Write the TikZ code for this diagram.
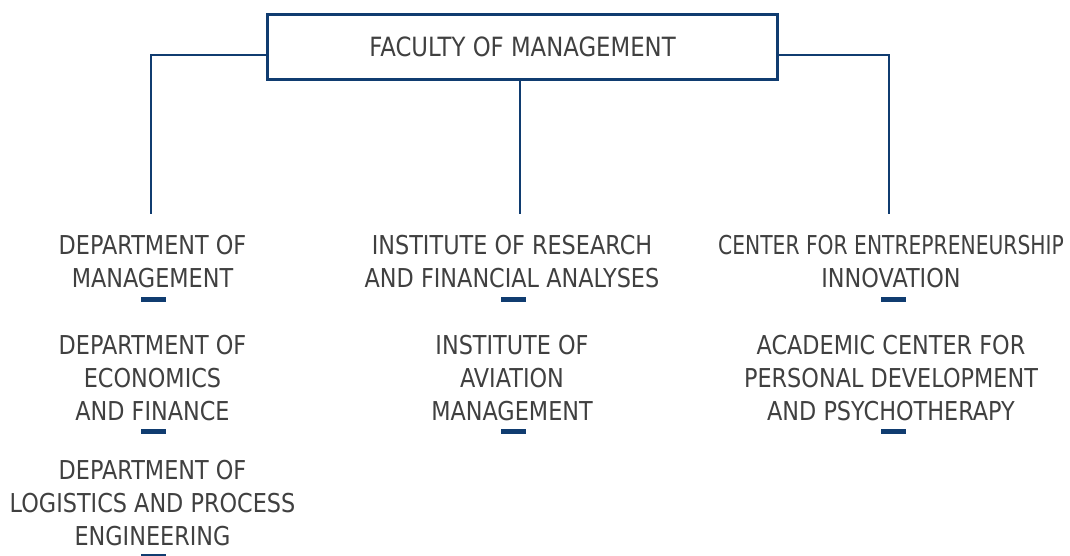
\documentclass[tikz,border=0pt]{standalone}
\usepackage{fontspec}
\setmainfont{DejaVu Sans}[FakeStretch=0.86]
\newfontfamily\narrowfont{DejaVu Sans}[FakeStretch=0.78]
\definecolor{navy}{RGB}{16,60,112}
\definecolor{txt}{RGB}{64,64,64}
\begin{document}
\begin{tikzpicture}[x=1pt,y=-1pt,
  lbl/.style={font=\fontsize{26}{33}\selectfont, text=txt, align=center, inner sep=0pt, anchor=north},
  sepbar/.style={fill=navy, minimum width=25pt, minimum height=5pt, inner sep=0pt},
  conn/.style={draw=navy, line width=2pt},
  headbox/.style={draw=navy, line width=3pt, minimum width=510pt, minimum height=65pt, inner sep=0pt,
    font=\fontsize{26.5}{30}\selectfont, text=txt}]
\useasboundingbox (0,0) rectangle (1070,556);
\node[headbox] (fac) at (522.5,47) {\raisebox{-1.5pt}{FACULTY OF MANAGEMENT}};
% left column
\node[lbl] (dm1) at (152.5,235) {DEPARTMENT OF\\MANAGEMENT};
\node[sepbar] (s11) at (153.5,299.5) {};
\node[lbl] (dm2) at (152.5,335) {DEPARTMENT OF\\ECONOMICS\\AND FINANCE};
\node[sepbar] (s12) at (153.5,431.5) {};
\node[lbl] (dm3) at (152.5,460) {DEPARTMENT OF\\LOGISTICS AND PROCESS\\ENGINEERING};
\node[sepbar] (s13) at (153.5,556.5) {};
% middle column
\node[lbl] (ir1) at (512,235) {INSTITUTE OF RESEARCH\\AND FINANCIAL ANALYSES};
\node[sepbar] (s21) at (513.5,299.5) {};
\node[lbl] (ir2) at (512,335) {INSTITUTE OF\\AVIATION\\MANAGEMENT};
\node[sepbar] (s22) at (513.5,431.5) {};
% right column
\node[lbl] (ce1) at (891,235) {{\narrowfont CENTER FOR ENTREPRENEURSHIP}\\INNOVATION};
\node[sepbar] (s31) at (893.5,299.5) {};
\node[lbl] (ce2) at (891,335) {ACADEMIC CENTER FOR\\PERSONAL DEVELOPMENT\\AND PSYCHOTHERAPY};
\node[sepbar] (s32) at (893.5,431.5) {};
% connectors
\coordinate (lend) at (151,214);
\coordinate (mend) at (520,214);
\coordinate (rend) at (889,214);
\draw[conn] ([yshift=-8.5pt]fac.west) -| (lend);
\draw[conn] ([yshift=-8.5pt]fac.east) -| (rend);
\draw[conn] (fac.south -| mend) -- (mend);
\end{tikzpicture}
\end{document}
